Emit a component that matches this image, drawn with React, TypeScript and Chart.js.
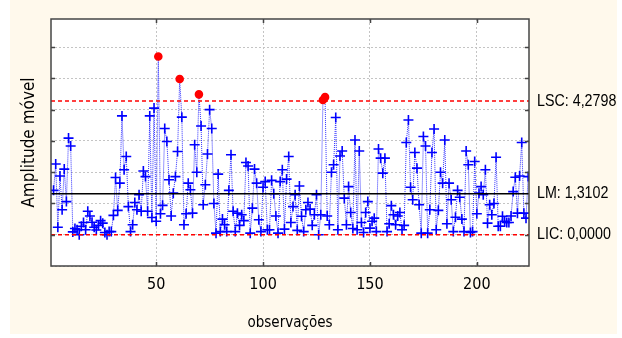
import { useEffect, useRef } from 'react';
import { Chart, registerables } from 'chart.js';

Chart.register(...registerables);

// Moving range of consecutive observations, starting at observation 2
const FIRST_OBS = 2;
const movingRange = [
  1.42, 2.26, 0.24, 1.88, 0.80, 2.10, 1.06, 3.09, 2.84, 0.09,
  0.20, 0.16, 0.00, 0.27, 0.39, 0.16, 0.75, 0.60, 0.40, 0.24,
  0.15, 0.30, 0.45, 0.37, 0.07, 0.00, 0.10, 0.10, 0.62, 1.83,
  0.78, 1.65, 3.80, 2.08, 2.50, 0.90, 0.10, 0.32, 1.03, 0.80,
  1.28, 0.75, 2.04, 1.86, 0.75, 3.80, 0.55, 4.05, 0.43, 5.70,
  0.67, 0.94, 3.40, 2.98, 1.76, 0.60, 1.33, 1.86, 2.66, 4.98,
  3.76, 0.32, 0.67, 1.65, 1.44, 0.69, 2.88, 2.00, 4.49, 3.48,
  0.96, 1.60, 2.58, 4.00, 3.40, 1.00, 0.05, 1.94, 0.10, 0.50,
  0.32, 0.10, 1.42, 2.56, 0.75, 0.10, 0.69, 0.30, 0.64, 0.45,
  2.31, 2.20, 0.05, 0.85, 2.10, 1.65, 0.48, 0.10, 1.52, 1.70,
  0.16, 0.16, 1.74, 1.31, 0.60, 0.05, 1.70, 2.08, 0.18, 1.78,
  2.50, 0.39, 0.90, 1.28, 0.14, 1.56, 0.59, 0.10, 0.80, 1.03,
  0.82, 0.30, 0.64, 1.28, 0.00, 0.64, 4.31, 4.40, 0.60, 0.32,
  2.00, 2.24, 3.75, 0.16, 2.52, 2.68, 1.17, 0.32, 1.54, 0.71,
  0.20, 3.03, 0.16, 2.68, 0.39, 0.07, 0.71, 1.06, 0.21, 0.43,
  0.53, 0.10, 2.74, 2.45, 1.97, 2.45, 0.10, 0.35, 0.93, 0.64,
  0.32, 0.60, 0.71, 0.16, 0.30, 2.95, 3.67, 1.52, 1.12, 2.63,
  2.13, 0.96, 0.05, 3.14, 2.84, 0.05, 0.80, 2.63, 3.38, 0.16,
  0.78, 2.00, 1.65, 3.03, 0.35, 1.65, 1.12, 0.10, 0.56, 1.42,
  1.20, 0.50, 0.10, 2.68, 2.24, 0.07, 0.10, 2.34, 0.67, 1.33,
  1.54, 1.28, 2.08, 0.37, 0.96, 0.64, 1.00, 2.48, 0.27, 0.27,
  0.59, 0.43, 0.39, 0.39, 0.60, 1.38, 1.84, 0.69, 1.88, 2.95,
  0.69, 0.53, 1.86,
];

// Control limits
const LSC = 4.2798;
const LM = 1.3102;
const LIC = 0.0;
const limitNames = ['LSC', 'LM', 'LIC'];
const limitValues = [LSC, LM, LIC];

const xTickValues = [50, 100, 150, 200];
const yTickValues = [-1, 0, 1, 2, 3, 4, 5, 6];
const X_MIN = 0.8;
const X_MAX = 224.4;
const Y_MIN = -1;
const Y_MAX = 6.9;

const xTitle = 'observações';
const yTitle = 'Amplitude móvel';

const FONT = "'DejaVu Sans Condensed', 'Liberation Sans', Arial, sans-serif";
const LABEL_FONT = "'Liberation Sans', Arial, sans-serif";

const fmt = (v: number) => v.toFixed(4).replace('.', ',');

const framePlugin = {
  id: 'frame',
  beforeDraw(chart: any) {
    const { ctx, chartArea: a, width, height } = chart;
    ctx.save();
    ctx.fillStyle = '#ffffff';
    ctx.fillRect(0, 0, width, height);
    ctx.fillStyle = '#FFF9EC';
    ctx.fillRect(10, 0, 607, 334);
    ctx.fillStyle = '#ffffff';
    ctx.fillRect(a.left, a.top, a.right - a.left, a.bottom - a.top);
    ctx.restore();
  },
  afterDraw(chart: any) {
    const { ctx, chartArea: a, scales } = chart;
    const xs = scales.x;
    const ys = scales.y;
    ctx.save();
    // frame
    ctx.strokeStyle = '#454545';
    ctx.lineWidth = 1.5;
    ctx.strokeRect(a.left, a.top, a.right - a.left, a.bottom - a.top);
    // inward tick marks
    ctx.beginPath();
    xTickValues.forEach((t) => {
      const px = Math.round(xs.getPixelForValue(t)) + 0.5;
      ctx.moveTo(px, a.top);
      ctx.lineTo(px, a.top + 4);
      ctx.moveTo(px, a.bottom);
      ctx.lineTo(px, a.bottom - 4);
    });
    yTickValues.forEach((t) => {
      if (t <= Y_MIN) return;
      const py = Math.round(ys.getPixelForValue(t)) + 0.5;
      ctx.moveTo(a.left, py);
      ctx.lineTo(a.left + 4, py);
      ctx.moveTo(a.right, py);
      ctx.lineTo(a.right - 4, py);
    });
    ctx.stroke();
    // control limit labels, in a narrow face
    ctx.fillStyle = '#000000';
    ctx.font = `17px ${LABEL_FONT}`;
    ctx.textAlign = 'left';
    ctx.textBaseline = 'middle';
    limitNames.forEach((name, i) => {
      const py = ys.getPixelForValue(limitValues[i]);
      ctx.save();
      ctx.translate(a.right + 8, py);
      ctx.scale(0.84, 1);
      ctx.fillText(`${name}: ${fmt(limitValues[i])}`, 0, 0);
      ctx.restore();
    });
    ctx.restore();
  },
};

export default function App() {
  const canvasRef = useRef<HTMLCanvasElement | null>(null);

  useEffect(() => {
    const canvas = canvasRef.current;
    if (!canvas) return;

    const points = movingRange.map((v, i) => ({ x: FIRST_OBS + i, y: v }));
    const limitLine = (value: number) => [
      { x: X_MIN, y: value },
      { x: X_MAX, y: value },
    ];
    const isOut = (ctx: any) => !!(ctx.raw && ctx.raw.y > LSC);

    const chart = new Chart(canvas, {
      type: 'line',
      data: {
        datasets: [
          {
            label: 'LSC',
            data: limitLine(LSC),
            borderColor: '#ff0000',
            borderWidth: 1.5,
            borderDash: [4, 3],
            pointRadius: 0,
            order: 0,
          },
          {
            label: 'LM',
            data: limitLine(LM),
            borderColor: '#000000',
            borderWidth: 1.5,
            pointRadius: 0,
            order: 0,
          },
          {
            label: 'LIC',
            data: limitLine(LIC),
            borderColor: '#ff0000',
            borderWidth: 1.5,
            borderDash: [4, 3],
            pointRadius: 0,
            order: 0,
          },
          {
            label: yTitle,
            data: points,
            borderColor: '#3030ff',
            borderWidth: 1,
            borderDash: [1, 1],
            tension: 0,
            order: 1,
            pointStyle: (ctx: any) => (isOut(ctx) ? 'circle' : 'cross'),
            pointRadius: (ctx: any) => (isOut(ctx) ? 3.5 : 5),
            pointBorderWidth: 1.6,
            pointBorderColor: (ctx: any) => (isOut(ctx) ? '#ff0000' : '#0000ff'),
            pointBackgroundColor: (ctx: any) => (isOut(ctx) ? '#ff0000' : '#0000ff'),
          },
        ],
      },
      options: {
        animation: false,
        responsive: false,
        devicePixelRatio: 1,
        layout: { padding: { left: 0, top: 19, right: 93, bottom: 0 } },
        plugins: {
          legend: { display: false },
          tooltip: { enabled: false },
        },
        scales: {
          x: {
            type: 'linear',
            position: 'bottom',
            min: X_MIN,
            max: X_MAX,
            afterBuildTicks: (scale: any) => {
              scale.ticks = xTickValues.map((v) => ({ value: v }));
            },
            afterFit: (scale: any) => {
              scale.height = 72;
            },
            grid: {
              color: '#c4c4c4',
              lineWidth: 1,
              drawTicks: false,
            },
            border: { display: false, dash: [2, 2] },
            ticks: {
              color: '#000000',
              padding: 9,
              maxRotation: 0,
              font: { family: FONT, size: 16 },
              callback: (v: any) => String(v),
            },
            title: {
              display: true,
              text: xTitle,
              color: '#000000',
              font: { family: FONT, size: 15 },
              padding: { top: 0, bottom: 6 },
            },
          },
          y: {
            type: 'linear',
            min: Y_MIN,
            max: Y_MAX,
            afterBuildTicks: (scale: any) => {
              scale.ticks = yTickValues.map((v) => ({ value: v }));
            },
            afterFit: (scale: any) => {
              scale.width = 51;
            },
            grid: {
              color: '#c4c4c4',
              lineWidth: 1,
              drawTicks: false,
            },
            border: { display: false, dash: [2, 2] },
            ticks: { display: false },
            title: {
              display: true,
              text: yTitle,
              color: '#000000',
              font: { family: FONT, size: 17 },
              padding: { top: 19, bottom: 0 },
            },
          },
        },
      },
      plugins: [framePlugin],
    });

    return () => chart.destroy();
  }, []);

  return (
    <div style={{ position: 'absolute', left: 0, top: 0, width: 622, height: 338 }}>
      <canvas ref={canvasRef} width={622} height={338} style={{ width: 622, height: 338, display: 'block' }} />
    </div>
  );
}
